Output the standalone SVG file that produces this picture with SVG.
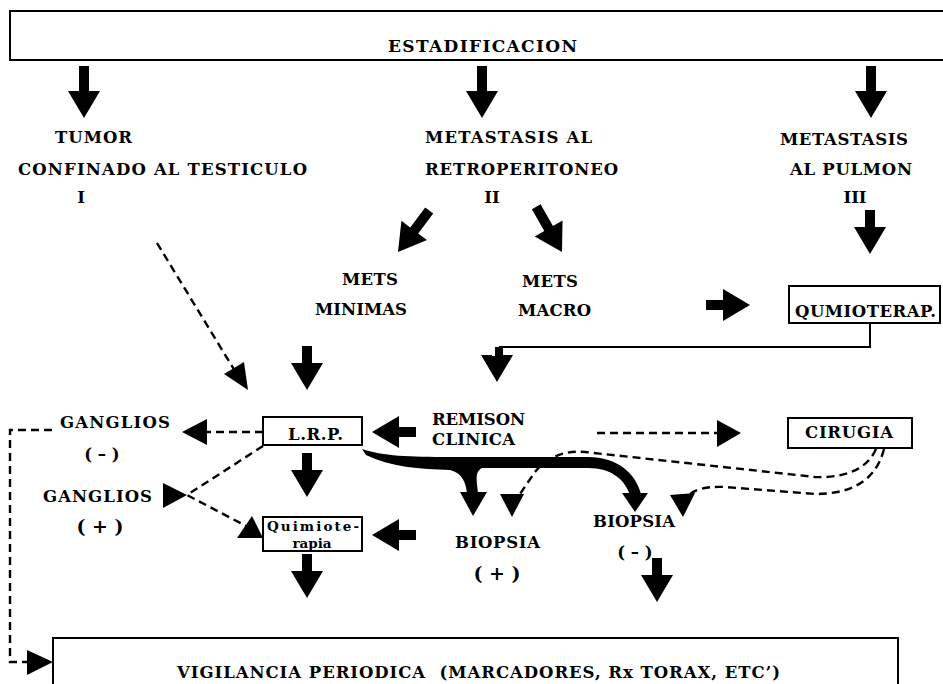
<svg xmlns="http://www.w3.org/2000/svg" xmlns:xlink="http://www.w3.org/1999/xlink" width="943" height="684" viewBox="0 0 943 684">
<style>
text{font-family:"DejaVu Serif","Liberation Serif",serif;font-weight:bold;font-size:16.5px;fill:#000}
.sm{font-size:13.5px}
.box{fill:#fff;stroke:#000;stroke-width:2}
.thin{fill:none;stroke:#000;stroke-width:2}
.dash{fill:none;stroke:#000;stroke-width:2.4;stroke-dasharray:8 5}
.hd{fill:#000}
</style>
<defs>
<path id="ba" d="M-5,-52 L5,-52 L5,-27 L16,-27 L0,0 L-16,-27 L-5,-27 Z"/>
<path id="bs" d="M-5,-44 L5,-44 L5,-27 L16,-27 L0,0 L-16,-27 L-5,-27 Z"/>
</defs>
<rect width="943" height="684" fill="#fff"/>

<g id="n-estadificacion">
<rect class="box" x="10" y="11" width="945" height="49"/>
<text x="388" y="52" style="font-size:17px" textLength="189" lengthAdjust="spacing">ESTADIFICACION</text>
</g>
<g id="n-tumor">
<text x="55" y="143" textLength="77" lengthAdjust="spacing">TUMOR</text>
<text x="18" y="175" textLength="289" lengthAdjust="spacing">CONFINADO AL TESTICULO</text>
<text x="81" y="203" text-anchor="middle">I</text>
</g>
<g id="n-retro">
<text x="425" y="143" textLength="167" lengthAdjust="spacing">METASTASIS AL</text>
<text x="425" y="175" textLength="193" lengthAdjust="spacing">RETROPERITONEO</text>
<text x="492" y="203" text-anchor="middle">II</text>
</g>
<g id="n-pulmon">
<text x="780" y="145" textLength="128" lengthAdjust="spacing">METASTASIS</text>
<text x="790" y="175" textLength="122" lengthAdjust="spacing">AL PULMON</text>
<text x="855" y="203" text-anchor="middle">III</text>
</g>
<g id="n-minimas">
<text x="342" y="285" textLength="56" lengthAdjust="spacing">METS</text>
<text x="315" y="315" textLength="92" lengthAdjust="spacing">MINIMAS</text>
</g>
<g id="n-macro">
<text x="522" y="287" textLength="56" lengthAdjust="spacing">METS</text>
<text x="518" y="316" textLength="73" lengthAdjust="spacing">MACRO</text>
</g>
<g id="n-qumioterap">
<rect class="box" x="789" y="286" width="151" height="37"/>
<text x="795" y="317" textLength="141" lengthAdjust="spacing">QUMIOTERAP.</text>
</g>
<g id="n-ganglios-neg">
<text x="60" y="428" textLength="110" lengthAdjust="spacing">GANGLIOS</text>
<text x="102" y="460" text-anchor="middle">( – )</text>
</g>
<g id="n-ganglios-pos">
<text x="43" y="502" textLength="109" lengthAdjust="spacing">GANGLIOS</text>
<text x="100" y="533" text-anchor="middle" style="font-size:19px">( + )</text>
</g>
<g id="n-lrp">
<rect class="box" x="263" y="417" width="99" height="28"/>
<text x="288" y="440" textLength="55" lengthAdjust="spacing">L.R.P.</text>
</g>
<g id="n-remision">
<text x="432" y="425" textLength="93" lengthAdjust="spacing">REMISON</text>
<text x="432" y="445" textLength="83" lengthAdjust="spacing">CLINICA</text>
</g>
<g id="n-cirugia">
<rect class="box" x="788" y="418" width="124" height="30"/>
<text x="805" y="438" textLength="88" lengthAdjust="spacing">CIRUGIA</text>
</g>
<g id="n-quimioterapia">
<rect class="box" x="263" y="517" width="99" height="34"/>
<text class="sm" x="267" y="531" textLength="92" lengthAdjust="spacing">Quimiote-</text>
<text class="sm" x="312" y="548" text-anchor="middle">rapia</text>
</g>
<g id="n-biopsia-pos">
<text x="455" y="548" textLength="85" lengthAdjust="spacing">BIOPSIA</text>
<text x="497" y="580" text-anchor="middle" style="font-size:19px">( + )</text>
</g>
<g id="n-biopsia-neg">
<text x="593" y="527" textLength="82" lengthAdjust="spacing">BIOPSIA</text>
<text x="635" y="558" text-anchor="middle">( – )</text>
</g>
<g id="n-vigilancia">
<rect class="box" x="53" y="638" width="845" height="60"/>
<text x="177" y="678" textLength="603" lengthAdjust="spacing" xml:space="preserve">VIGILANCIA PERIODICA  (MARCADORES, Rx TORAX, ETC’)</text>
</g>

<g id="connectors">
<use href="#ba" xlink:href="#ba" transform="translate(84,118)"/>
<use href="#ba" xlink:href="#ba" transform="translate(482,118)"/>
<use href="#ba" xlink:href="#ba" transform="translate(871,118)"/>
<use href="#ba" xlink:href="#ba" transform="translate(398,252) rotate(36.9)"/>
<use href="#ba" xlink:href="#ba" transform="translate(562,252) rotate(-29.7)"/>
<use href="#bs" xlink:href="#bs" transform="translate(870,254)"/>
<use href="#bs" xlink:href="#bs" transform="translate(750,305) rotate(-90)"/>
<use href="#bs" xlink:href="#bs" transform="translate(307,390)"/>
<use href="#bs" xlink:href="#bs" transform="translate(372,432) rotate(90)"/>
<use href="#bs" xlink:href="#bs" transform="translate(307,497)"/>
<use href="#bs" xlink:href="#bs" transform="translate(372,535) rotate(90)"/>
<use href="#bs" xlink:href="#bs" transform="translate(307,598)"/>
<use href="#bs" xlink:href="#bs" transform="translate(657,602)"/>

<path class="thin" d="M870,323 V347 H500 V360"/>
<path d="M-5,-26 L5,-26 L5,-27 L16,-27 L0,0 L-16,-27 L-5,-27 Z" transform="translate(497,382)"/>
<rect x="495" y="347" width="8" height="12"/>

<path class="dash" d="M157,243 L238,376"/>
<polygon class="hd" points="248,390 224,374 244,362"/>
<path class="dash" d="M263,432 H207"/>
<polygon class="hd" points="182,432 207,419 207,445"/>
<path class="dash" d="M263,446 L187,495 L246,526"/>
<polygon class="hd" points="163,483 163,508 187,495"/>
<polygon class="hd" points="237,538 252,516 263,538"/>
<path class="dash" d="M597,433 H717"/>
<polygon class="hd" points="717,420 717,447 741,433"/>
<path class="dash" d="M52,430 H10 V662 H27"/>
<polygon class="hd" points="27,650 27,675 53,662"/>

<path d="M362,449 C382,456 410,457 450,457 L588,457 C618,457 636,474 641,494 L630,495 C625,480 612,468 588,468 L482,468 C474,472 477,482 478,493 L467,494 C466,482 462,473 450,470 C420,469 390,467 366,455 Z"/>
<polygon class="hd" points="460,492 487,492 473,516"/>
<polygon class="hd" points="622,493 648,493 635,512"/>

<path class="dash" d="M876,449 C866,472 840,478 815,477 L585,452 C560,450 545,460 535,472 L520,494"/>
<polygon class="hd" points="500,494 524,494 512,517"/>
<path class="dash" d="M884,449 C875,485 845,494 815,494 L725,487 C705,486 693,490 688,496"/>
<polygon class="hd" points="670,495 695,493 683,517"/>
</g>
</svg>
